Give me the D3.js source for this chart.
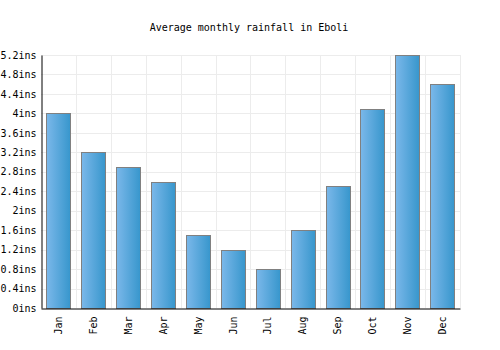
<!DOCTYPE html>
<html><head><meta charset="utf-8">
<script src="https://cdn.jsdelivr.net/npm/d3@7"></script>
<style>body{margin:0;background:#fff}svg{display:block}text{font-family:"DejaVu Sans Mono",monospace}</style>
</head><body><svg id="c" width="500" height="350"></svg>
<script>
const months = ["Jan","Feb","Mar","Apr","May","Jun","Jul","Aug","Sep","Oct","Nov","Dec"];
const rainfall = [4.0,3.2,2.9,2.6,1.5,1.2,0.8,1.6,2.5,4.1,5.2,4.6];
const yTicks = [0,0.4,0.8,1.2,1.6,2,2.4,2.8,3.2,3.6,4,4.4,4.8,5.2];
const title = "Average monthly rainfall in Eboli";

const svg = d3.select("#c");
const m = {l:41, r:40, t:55, b:42};
const W = 500, H = 350;
const x = d3.scaleBand().domain(months).range([m.l, W - m.r]).paddingInner(0.3).paddingOuter(0.15);
const xb = d3.scaleBand().domain(months).range([m.l, W - m.r]);
const y = d3.scaleLinear().domain([0,5.2]).range([H - m.b, m.t]);

const defs = svg.append("defs");
const g = defs.append("linearGradient").attr("id","bg").attr("x1","0").attr("x2","1").attr("y1","0").attr("y2","0");
g.append("stop").attr("offset","0").attr("stop-color","#7bb8ea");
g.append("stop").attr("offset","1").attr("stop-color","#3796cc");

svg.append("text").attr("x",249).attr("y",31).attr("text-anchor","middle").attr("font-size",10).text(title);

// grid
const grid = svg.append("g");
grid.selectAll("line.h").data(yTicks.slice(1)).join("line")
  .attr("x1",m.l).attr("x2",W-m.r).attr("y1",d=>Math.round(y(d))+0.5).attr("y2",d=>Math.round(y(d))+0.5)
  .attr("stroke","#ececec");
grid.selectAll("line.v").data(months).join("line")
  .attr("x1",d=>Math.round(xb(d)+xb.bandwidth())+0.5).attr("x2",d=>Math.round(xb(d)+xb.bandwidth())+0.5)
  .attr("y1",m.t).attr("y2",H-m.b).attr("stroke","#ececec");

svg.append("g").selectAll("rect").data(rainfall).join("rect")
  .attr("x",(d,i)=>Math.round(x(months[i]))+0.5).attr("width",Math.round(x.bandwidth()))
  .attr("y",d=>Math.round(y(d))+0.5).attr("height",d=>Math.round(y(0))-Math.round(y(d)))
  .attr("fill","url(#bg)").attr("stroke","#808080").attr("stroke-width",1);

const ya = svg.append("g").attr("transform",`translate(${m.l+0.5},0)`)
  .call(d3.axisLeft(y).tickValues(yTicks).tickSize(0).tickPadding(5).tickFormat(d=>d3.format("~g")(d)+"ins"));
ya.select(".domain").attr("stroke","#000");
ya.selectAll("text").attr("font-size",10).attr("font-family","DejaVu Sans Mono, monospace").attr("fill","#000");

const xa = svg.append("g").attr("transform",`translate(0,${H-m.b+0.5})`)
  .call(d3.axisBottom(xb).tickSize(0).tickPadding(0));
xa.select(".domain").attr("stroke","#000");
xa.selectAll("text").attr("font-size",10).attr("font-family","DejaVu Sans Mono, monospace").attr("fill","#000")
  .attr("transform","rotate(-90)").attr("text-anchor","end").attr("dy","0.35em").attr("x",-8).attr("y",0);
</script></body></html>
